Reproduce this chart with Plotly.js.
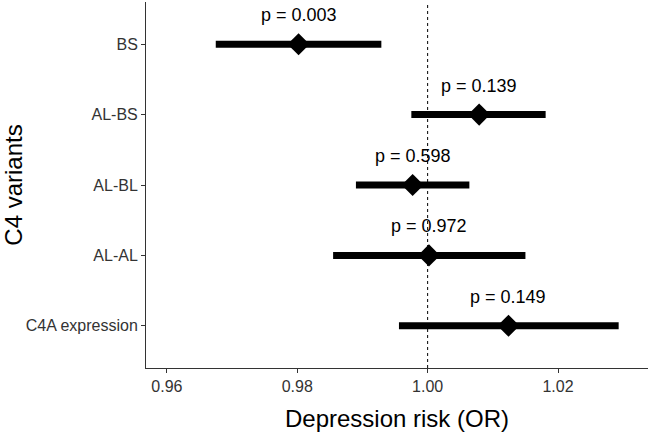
<!DOCTYPE html>
<html>
<head>
<meta charset="utf-8">
<script src="https://cdn.plot.ly/plotly-3.0.1.min.js"></script>
<style>html,body{margin:0;padding:0;background:#fff;}#chart{width:648px;height:432px;}</style>
</head>
<body>
<div id="chart"></div>
<script>
const variants = ["BS", "AL-BS", "AL-BL", "AL-AL", "C4A expression"];
const orValues = [0.9802, 1.0079, 0.9977, 1.0002, 1.0124];
const ciLow = [0.9675, 0.9975, 0.9890, 0.9855, 0.9956];
const ciHigh = [0.9929, 1.0181, 1.0064, 1.0150, 1.0293];
const pLabels = ["p = 0.003", "p = 0.139", "p = 0.598", "p = 0.972", "p = 0.149"];
const xTicks = [0.96, 0.98, 1.00, 1.02];
const refLine = 1.0;

const trace = {
  type: 'scatter',
  mode: 'markers',
  x: orValues,
  y: variants,
  marker: {symbol: 'diamond', size: 17, color: '#000'},
  error_x: {
    type: 'data', symmetric: false,
    array: orValues.map((v, i) => ciHigh[i] - v),
    arrayminus: orValues.map((v, i) => v - ciLow[i]),
    thickness: 7, width: 0, color: '#000'
  },
  hoverinfo: 'skip'
};

const annotations = variants.map((v, i) => ({
  x: orValues[i], y: v, xref: 'x', yref: 'y',
  text: pLabels[i], showarrow: false, yshift: 29,
  font: {size: 18, color: '#000', family: 'Liberation Sans, Arial, sans-serif'}
}));

const layout = {
  width: 648, height: 432,
  margin: {l: 146, r: 0, t: 2, b: 64},
  paper_bgcolor: '#fff', plot_bgcolor: '#fff',
  font: {family: 'Liberation Sans, Arial, sans-serif', color: '#000'},
  showlegend: false,
  xaxis: {
    range: [0.9568, 1.0338],
    tickvals: xTicks, tickformat: '.2f',
    ticks: 'outside', ticklen: 4, tickcolor: '#333', tickwidth: 1,
    showline: true, linecolor: '#333', linewidth: 1,
    showgrid: false, zeroline: false,
    tickfont: {size: 16, color: '#333'},
    title: {text: 'Depression risk (OR)', font: {size: 24, color: '#000'}, standoff: 16}
  },
  yaxis: {
    type: 'category',
    categoryorder: 'array', categoryarray: variants.slice().reverse(),
    range: [-0.6, 4.6],
    ticks: 'outside', ticklen: 4, tickcolor: '#333', tickwidth: 1,
    showline: true, linecolor: '#333', linewidth: 1,
    showgrid: false, zeroline: false,
    tickfont: {size: 16, color: '#333'},
    title: {text: 'C4 variants', font: {size: 24, color: '#000'}, standoff: 13}
  },
  shapes: [{
    type: 'line', xref: 'x', yref: 'paper', x0: refLine, x1: refLine, y0: 0, y1: 1,
    line: {color: '#000', width: 1, dash: 'dot'}, layer: 'below'
  }],
  annotations: annotations
};

Plotly.newPlot('chart', [trace], layout, {displayModeBar: false, staticPlot: true});
</script>
</body>
</html>
